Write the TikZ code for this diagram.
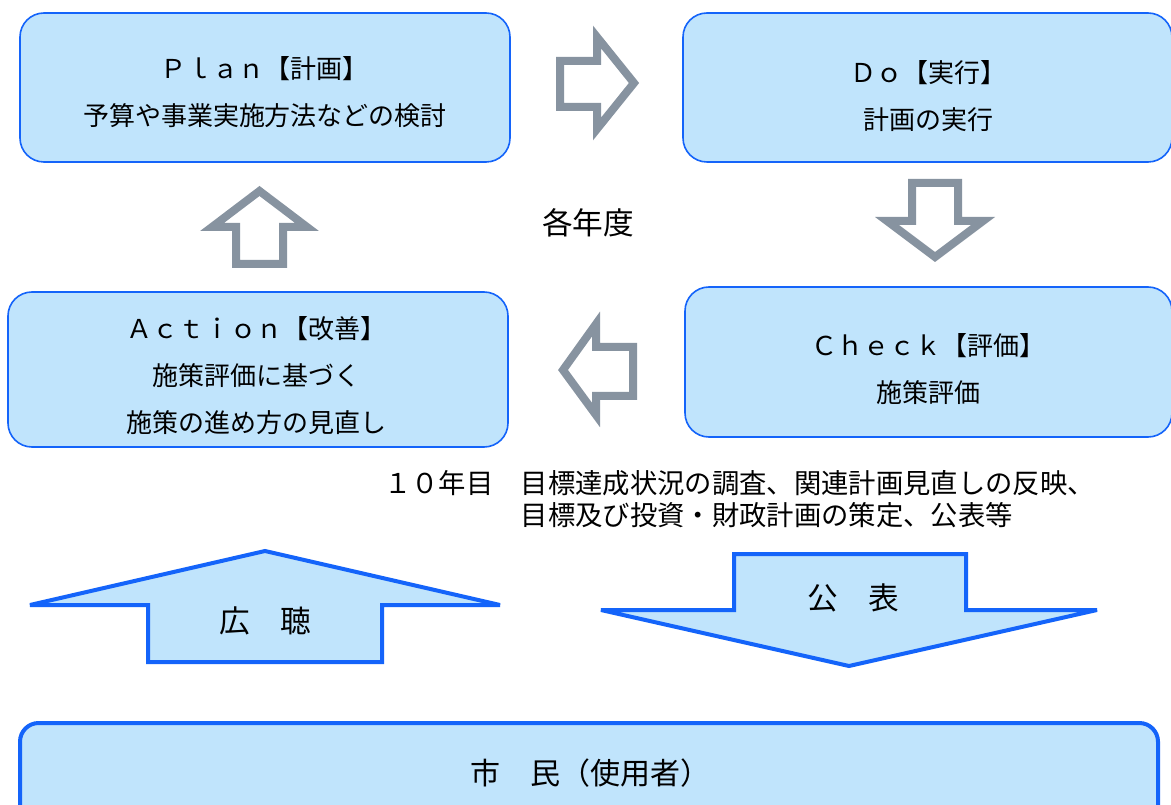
\documentclass[tikz,border=0pt]{standalone}
\usepackage{fontspec}
\newfontfamily\jp{Noto Sans CJK JP}
\definecolor{lblue}{RGB}{192,228,252}
\definecolor{bblue}{RGB}{20,100,250}
\definecolor{agray}{RGB}{135,147,160}
\begin{document}
\begin{tikzpicture}[x=0.75pt,y=-0.75pt,
  box/.style={rectangle,draw=bblue,fill=lblue,line width=1.2pt,rounded corners=18pt,inner sep=0pt},
  txt/.style={font=\jp\fontsize{19.5}{35}\selectfont,align=center,inner sep=0pt},
  hollow/.style={draw=agray,fill=white,line width=6pt,line join=miter},
  big/.style={draw=bblue,fill=lblue,line width=3pt,miter limit=3}]
\clip (0,0) rectangle (1171,805);
\fill[white] (0,0) rectangle (1171,805);

% boxes
\node[box,minimum width=367.5pt,minimum height=111.75pt] (plan) at (265,87.5) {};
\node[box,minimum width=366.75pt,minimum height=111.75pt] (do) at (927.5,87.5) {};
\node[box,minimum width=365.25pt,minimum height=112.5pt] (check) at (928.5,362) {};
\node[box,minimum width=375pt,minimum height=116.25pt] (action) at (258,369.5) {};
\node[box,line width=3pt,rounded corners=14pt,minimum width=853.5pt,minimum height=87.75pt] (citizen) at (589,781.5) {};

% box texts
\node[txt] (plantxt) at (265,92) {Ｐｌａｎ【計画】\\予算や事業実施方法などの検討};
\node[txt] (dotxt) at (928,96) {Ｄｏ【実行】\\計画の実行};
\node[txt] (checktxt) at (928,369) {Ｃｈｅｃｋ【評価】\\施策評価};
\node[txt] (actiontxt) at (256,375.5) {Ａｃｔｉｏｎ【改善】\\施策評価に基づく\\施策の進め方の見直し};
\node[txt,font=\jp\fontsize{22.5}{27}\selectfont] (citizentxt) at (590,773) {市　民（使用者）};

% cycle label
\node[txt,font=\jp\fontsize{23}{28}\selectfont] (yearly) at (588,223) {各年度};

% hollow gray arrows
\draw[hollow] (560,61) -- (597,61) -- (597,37) -- (634,83) -- (597,129) -- (597,107) -- (560,107) -- cycle;
\draw[hollow] (912,183) -- (958,183) -- (958,221) -- (983,221) -- (935,257) -- (887,221) -- (912,221) -- cycle;
\draw[hollow] (633,347) -- (596,347) -- (596,324) -- (563,370) -- (596,415) -- (596,396) -- (633,396) -- cycle;
\draw[hollow] (236,264) -- (283,264) -- (283,227) -- (307,227) -- (259.5,191) -- (212,227) -- (236,227) -- cycle;

% ten-year note
\node[txt,font=\jp\fontsize{20.5}{24}\selectfont,align=left,anchor=west] (note) at (384,499)
  {１０年目　目標達成状況の調査、関連計画見直しの反映、\\\hphantom{１０年目　}目標及び投資・財政計画の策定、公表等};

% big blue arrows
\draw[big] (265,551) -- (500,605) -- (382,605) -- (382,662) -- (148,662) -- (148,605) -- (30,605) -- cycle;
\draw[big] (734,554) -- (966,554) -- (966,610) -- (1097,610) -- (849,666) -- (601,610) -- (734,610) -- cycle;
\node[txt,font=\jp\fontsize{23}{28}\selectfont] (kocho) at (265,621) {広　聴};
\node[txt,font=\jp\fontsize{23}{28}\selectfont] (kohyo) at (853,598) {公　表};
\end{tikzpicture}
\end{document}
